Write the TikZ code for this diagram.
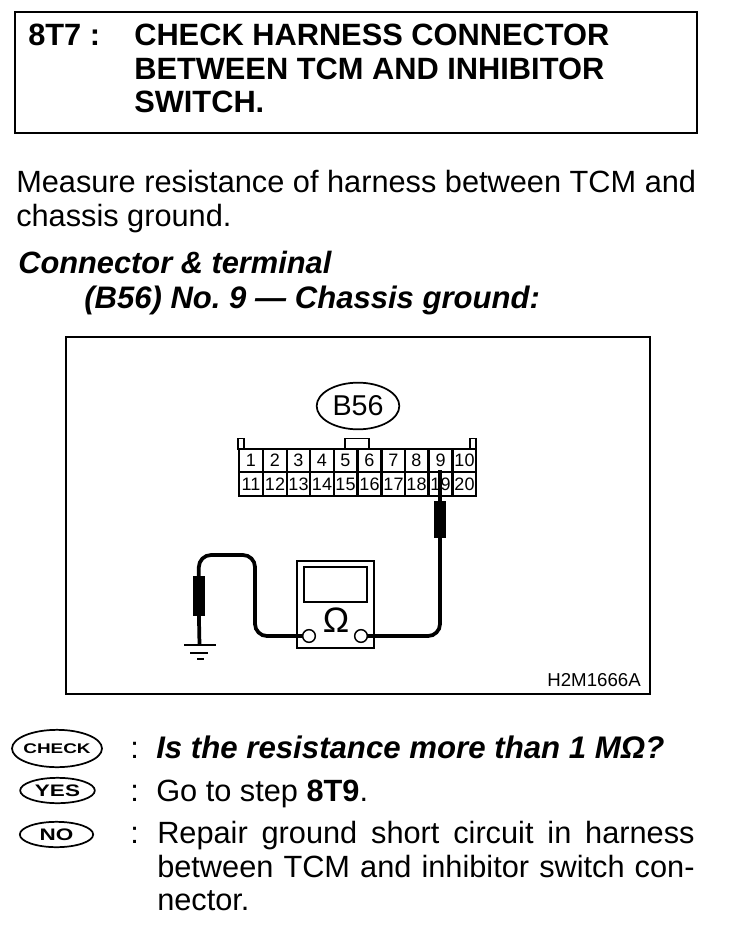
\documentclass[tikz,border=0pt]{standalone}
\usepackage{fontspec}
\setmainfont{Liberation Sans}
\newfontfamily\badgefont[FakeStretch=1.35]{Liberation Sans}
\usetikzlibrary{shapes.geometric}
\frenchspacing
\tikzset{
    line/.style={anchor=base west, inner sep=0pt, font=\fontsize{23.05}{26}\selectfont},
    headline/.style={line, font=\fontsize{23.1}{26}\selectfont\bfseries},
    subline/.style={line, font=\fontsize{23.3}{26}\selectfont\bfseries\itshape},
    cell/.style={draw, line width=1.4pt, minimum width=17.6pt, minimum height=17.6pt, inner sep=0pt, font=\fontsize{13.5}{14}\selectfont},
    badge/.style={draw, ellipse, line width=1.3pt, inner sep=0pt, font=\badgefont\fontsize{12.5}{14}\selectfont\bfseries},
    wire/.style={line width=2.8pt, rounded corners=9pt},
    probe/.style={fill=black, draw=black, minimum width=8pt, inner sep=0pt},
    terminal/.style={draw, circle, line width=1.1pt, fill=white, minimum size=9.5pt, inner sep=0pt}
}
\begin{document}
\begin{tikzpicture}[x=0.75pt, y=-0.75pt]
        \useasboundingbox (0, 0) rectangle (736, 928);

        % Header
        \node[draw, line width=1.9pt, minimum width=511.5pt, minimum height=90.7pt, inner sep=0pt] (header) at (356, 72.5) {};
        \node[headline] (step) at (28, 45) {8T7 :};
        \node[headline] (title1) at (134, 45) {CHECK HARNESS CONNECTOR};
        \node[headline] (title2) at (134, 79) {BETWEEN TCM AND INHIBITOR};
        \node[headline] (title3) at (134, 112) {SWITCH.};

        % Instruction
        \node[line] (measure1) at (16, 192) {Measure resistance of harness between TCM and};
        \node[line] (measure2) at (16, 226) {chassis ground.};
        \node[subline, font=\fontsize{23.1}{26}\selectfont\bfseries\itshape] (sub1) at (18, 273) {Connector \& terminal};
        \node[subline] (sub2) at (84, 308) {(B56) No. 9 --- Chassis ground:};

        % Figure frame
        \node[draw, line width=1.1pt, minimum width=438pt, minimum height=267.5pt, inner sep=0pt] (frame) at (358, 515.5) {};
        \node[anchor=base east, inner sep=0pt, font=\fontsize{14}{16}\selectfont] (code) at (641, 686) {H2M1666A};

        % Connector B56
        \node[draw, ellipse, line width=1.3pt, minimum width=62pt, minimum height=35pt, inner sep=0pt, font=\fontsize{21.5}{23}\selectfont] (b56) at (358, 406) {B56};
        \node[draw, line width=1.2pt, minimum width=4.5pt, minimum height=8pt, inner sep=0pt] (tabl) at (241, 444) {};
        \node[draw, line width=1.2pt, minimum width=4.5pt, minimum height=8pt, inner sep=0pt] (tabr) at (473, 444) {};
        \node[draw, line width=1.2pt, minimum width=18pt, minimum height=8pt, inner sep=0pt] (key) at (357, 444) {};

        \node[cell] (c1) at (251, 460.5) {1};
        \node[cell] (c2) at (275, 460.5) {2};
        \node[cell] (c3) at (298.5, 460.5) {3};
        \node[cell] (c4) at (322, 460.5) {4};
        \node[cell] (c5) at (345.5, 460.5) {5};
        \node[cell] (c6) at (369.5, 460.5) {6};
        \node[cell] (c7) at (393.5, 460.5) {7};
        \node[cell] (c8) at (416.5, 460.5) {8};
        \node[cell] (c9) at (440.5, 460.5) {9};
        \node[cell] (c10) at (464.5, 460.5) {10};
        \node[cell] (c11) at (251, 484) {11};
        \node[cell] (c12) at (275, 484) {12};
        \node[cell] (c13) at (298.5, 484) {13};
        \node[cell] (c14) at (322, 484) {14};
        \node[cell] (c15) at (345.5, 484) {15};
        \node[cell] (c16) at (369.5, 484) {16};
        \node[cell] (c17) at (393.5, 484) {17};
        \node[cell] (c18) at (416.5, 484) {18};
        \node[cell] (c19) at (440.5, 484) {19};
        \node[cell] (c20) at (464.5, 484) {20};

        % Meter
        \node[draw, line width=1.2pt, minimum width=57.5pt, minimum height=65.5pt, inner sep=0pt] (meter) at (335.5, 604.5) {};
        \node[draw, line width=1.4pt, minimum width=47pt, minimum height=26pt, inner sep=0pt] (screen) at (335.5, 584.5) {};
        \node[inner sep=0pt, font=\fontsize{26.5}{28}\selectfont] (ohm) at (336, 620) {Ω};

        % Probes
        \node[probe, minimum height=27pt] (probe1) at (440, 519.5) {};
        \node[probe, minimum height=29pt] (probe2) at (198.5, 595.5) {};
        \coordinate (pin) at (440, 470);

        % Ground
        \coordinate (gnd) at (199.5, 645);
        \draw[line width=2.8pt] (pin) -- (probe1);
        \draw[line width=2.8pt] (probe2) -- (gnd);
        \draw[line width=2pt] (184, 645) -- (216, 645);
        \draw[line width=1.5pt] (190, 653) -- (208, 653);
        \draw[line width=1.5pt] (197, 659) -- (204, 659);

        % Wires
        \draw[wire] (361, 636) -- (440, 636) -- (probe1);
        \draw[wire] (309, 636) -- (255, 636) -- (255, 555) -- (199, 555) -- (probe2);
        \node[terminal] (terml) at (309, 636) {};
        \node[terminal] (termr) at (361, 636) {};

        % Answers
        \node[badge, inner xsep=-2pt, minimum width=67.5pt, minimum height=28pt, font=\badgefont\fontsize{10.5}{12}\selectfont\bfseries] (check) at (57, 748.5) {CHECK};
        \node[badge, minimum width=56pt, minimum height=19pt] (yes) at (57.5, 790.5) {YES};
        \node[badge, minimum width=55pt, minimum height=19pt] (no) at (56.5, 834.5) {NO};

        \node[line] (colon1) at (130, 758) {:};
        \node[line] (colon2) at (130, 801) {:};
        \node[line] (colon3) at (130, 843) {:};

        \node[subline, font=\fontsize{23.4}{26}\selectfont\bfseries\itshape] (answer1) at (156, 758) {Is the resistance more than 1 MΩ?};
        \node[line] (answer2) at (156, 801) {Go to step \textbf{8T9}.};
        \node[line] (answer3) at (157, 843) {\makebox[403pt][s]{Repair ground short circuit in harness}};
        \node[line] (answer4) at (157, 877) {\makebox[403pt][s]{between TCM and inhibitor switch con-}};
        \node[line] (answer5) at (157, 910) {nector.};
\end{tikzpicture}
\end{document}
